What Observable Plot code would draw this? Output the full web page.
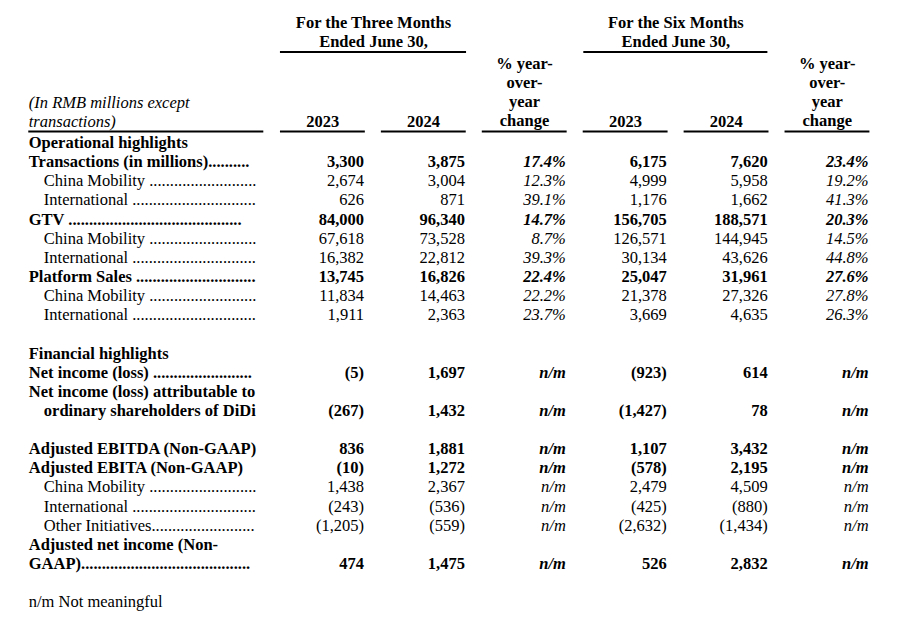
<!DOCTYPE html>
<html><head><meta charset="utf-8">
<script src="https://cdn.jsdelivr.net/npm/d3@7"></script>
<script src="https://cdn.jsdelivr.net/npm/@observablehq/plot@0.6"></script>
<style>
html,body{margin:0;padding:0;background:#fff;}
#chart svg{display:block}
</style></head><body><div id="chart"></div>
<script>
// ---------- data ----------
const rowLabels = [
  "Operational highlights",
  "Transactions (in millions)",
  "China Mobility", "International",
  "GTV", "China Mobility", "International",
  "Platform Sales", "China Mobility", "International",
  null,
  "Financial highlights",
  "Net income (loss)",
  "Net income (loss) attributable to",
  "ordinary shareholders of DiDi",
  null,
  "Adjusted EBITDA (Non-GAAP)",
  "Adjusted EBITA (Non-GAAP)",
  "China Mobility", "International", "Other Initiatives",
  "Adjusted net income (Non-",
  "GAAP)",
  null,
  "n/m Not meaningful"
];
// kind of each row: section, total, totalCont (indented continuation), segment, blank, note
const rowKinds = [
  "section", "total", "segment", "segment", "total", "segment", "segment",
  "total", "segment", "segment", "blank", "section", "total", "total",
  "totalCont", "blank", "total", "total", "segment", "segment", "segment",
  "total", "total", "blank", "note"
];
// leader text after each label: [separator, number of dots]
const leaders = {
  1: ["", 10], 2: [" ", 26], 3: [" ", 30], 4: [" ", 42], 5: [" ", 26], 6: [" ", 30],
  7: [" ", 29], 8: [" ", 26], 9: [" ", 30], 12: [" ", 24],
  18: [" ", 26], 19: [" ", 30], 20: ["", 25], 22: ["", 41]
};

const threeMonths2023 = [null, 3300, 2674, 626, 84000, 67618, 16382, 13745, 11834, 1911,
  null, null, -5, null, -267, null, 836, -10, 1438, -243, -1205, null, 474, null, null];
const threeMonths2024 = [null, 3875, 3004, 871, 96340, 73528, 22812, 16826, 14463, 2363,
  null, null, 1697, null, 1432, null, 1881, 1272, 2367, -536, -559, null, 1475, null, null];
const threeMonthsChange = [null, 17.4, 12.3, 39.1, 14.7, 8.7, 39.3, 22.4, 22.2, 23.7,
  null, null, "n/m", null, "n/m", null, "n/m", "n/m", "n/m", "n/m", "n/m", null, "n/m", null, null];
const sixMonths2023 = [null, 6175, 4999, 1176, 156705, 126571, 30134, 25047, 21378, 3669,
  null, null, -923, null, -1427, null, 1107, -578, 2479, -425, -2632, null, 526, null, null];
const sixMonths2024 = [null, 7620, 5958, 1662, 188571, 144945, 43626, 31961, 27326, 4635,
  null, null, 614, null, 78, null, 3432, 2195, 4509, -880, -1434, null, 2832, null, null];
const sixMonthsChange = [null, 23.4, 19.2, 41.3, 20.3, 14.5, 44.8, 27.6, 27.8, 26.3,
  null, null, "n/m", null, "n/m", null, "n/m", "n/m", "n/m", "n/m", "n/m", null, "n/m", null, null];

const periodHeaders = ["For the Three Months\nEnded June 30,", "For the Six Months\nEnded June 30,"];
const columnHeaders = ["2023", "2024", "% year-\nover-\nyear\nchange", "2023", "2024", "% year-\nover-\nyear\nchange"];
const unitNote = "(In RMB millions except\ntransactions)";

// ---------- formatting ----------
const fmtInt = d3.format(",");
const fmtNum = v => v < 0 ? `(${fmtInt(-v)})` : fmtInt(v);
const fmtPct = v => typeof v === "string" ? v : d3.format(".1f")(v) + "%";
const isBold = k => k === "section" || k === "total" || k === "totalCont";

const columns = [
  {values: threeMonths2023, fmt: fmtNum, italic: false},
  {values: threeMonths2024, fmt: fmtNum, italic: false},
  {values: threeMonthsChange, fmt: fmtPct, italic: true},
  {values: sixMonths2023, fmt: fmtNum, italic: false},
  {values: sixMonths2024, fmt: fmtNum, italic: false},
  {values: sixMonthsChange, fmt: fmtPct, italic: true}
];

// ---------- layout (in column / row units) ----------
const labelX = -2.322, indentX = -2.173;
const headerOffset = -0.41;       // column header centre relative to right edge
const ruleStart = -0.828, ruleEnd = 0.013;
const underlineRow = -0.59, periodRuleRow = -4.75;
const periodSpans = [[0.172, 2.016], [3.178, 5.002]];

const cells = [];
columns.forEach((c, i) => c.values.forEach((v, r) => {
  if (v != null) cells.push({col: i + 1, row: r, text: c.fmt(v), bold: isBold(rowKinds[r]), italic: c.italic});
}));

const labels = [];
rowLabels.forEach((l, r) => {
  if (l == null) return;
  const k = rowKinds[r];
  const lead = leaders[r] ? leaders[r][0] + ".".repeat(leaders[r][1]) : "";
  labels.push({x: (k === "segment" || k === "totalCont") ? indentX : labelX, row: r, text: l + lead, bold: isBold(k)});
});

const colHeads = columnHeaders.map((t, i) => ({
  x: i + 1 + headerOffset, text: t,
  y: t.includes("\n") ? -2.7 : -1.15
}));
const periodHeads = periodHeaders.map((t, i) => ({x: (periodSpans[i][0] + periodSpans[i][1]) / 2, y: -5.8, text: t}));

const rules = [
  {x1: labelX, x2: 0.007, y: underlineRow},
  ...columns.map((c, i) => ({x1: i + 1 + ruleStart, x2: i + 1 + ruleEnd, y: underlineRow})),
  ...periodSpans.map(([a, b]) => ({x1: a, x2: b, y: periodRuleRow}))
];

const font = "Liberation Serif, Times New Roman, serif";
const fs = 16.5;
const textOpts = {fontFamily: font, fontSize: fs, fill: "#000"};

const chart = Plot.plot({
  width: 900, height: 619,
  marginTop: 0, marginRight: 0, marginBottom: 0, marginLeft: 0,
  style: {background: "#fff"},
  x: {domain: [0, 6], range: [262.6, 868.1], axis: null},
  y: {domain: [-7.4386, 24.919], range: [0, 619], axis: null},
  marks: [
    Plot.ruleY(rules, {y: "y", x1: "x1", x2: "x2", stroke: "#000", strokeWidth: 2}),
    Plot.text(periodHeads, {x: "x", y: "y", text: "text", textAnchor: "middle", lineHeight: 1.155, fontWeight: "bold", ...textOpts}),
    Plot.text(colHeads, {x: "x", y: "y", text: "text", textAnchor: "middle", lineHeight: 1.155, fontWeight: "bold", ...textOpts}),
    Plot.text([{x: labelX, y: -1.65, text: unitNote}], {x: "x", y: "y", text: "text", textAnchor: "start", lineHeight: 1.155, fontStyle: "italic", ...textOpts}),
    Plot.text(labels.filter(d => d.bold), {x: "x", y: "row", text: "text", textAnchor: "start", fontWeight: "bold", ...textOpts}),
    Plot.text(labels.filter(d => !d.bold), {x: "x", y: "row", text: "text", textAnchor: "start", ...textOpts}),
    Plot.text(cells.filter(d => d.bold && !d.italic), {x: "col", y: "row", text: "text", textAnchor: "end", fontWeight: "bold", ...textOpts}),
    Plot.text(cells.filter(d => !d.bold && !d.italic), {x: "col", y: "row", text: "text", textAnchor: "end", ...textOpts}),
    Plot.text(cells.filter(d => d.bold && d.italic), {x: "col", y: "row", text: "text", textAnchor: "end", fontWeight: "bold", fontStyle: "italic", ...textOpts}),
    Plot.text(cells.filter(d => !d.bold && d.italic), {x: "col", y: "row", text: "text", textAnchor: "end", fontStyle: "italic", ...textOpts})
  ]
});
document.getElementById("chart").appendChild(chart);
</script>
</body></html>
